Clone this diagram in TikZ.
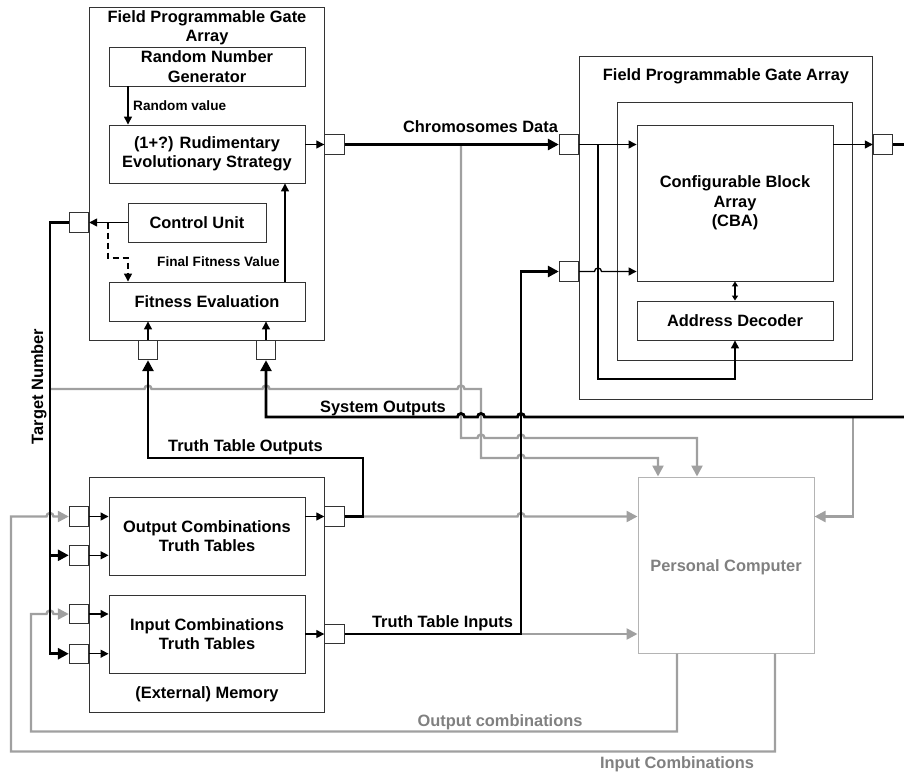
\documentclass[tikz,border=0pt]{standalone}
\usepackage{fontspec}
\setmainfont{Liberation Sans}
\usetikzlibrary{arrows.meta}
\definecolor{lgrey}{HTML}{A0A0A0}
\definecolor{tgrey}{HTML}{808080}
\definecolor{bgrey}{HTML}{333333}
\definecolor{pcgrey}{HTML}{B4B4B4}
\begin{document}
\begin{tikzpicture}[x=1pt,y=-1pt,
  every node/.style={font=\bfseries\fontsize{16.4}{19.5}\selectfont, inner sep=0pt},
  box/.style={draw=bgrey, line width=0.9pt, align=center},
  port/.style={draw=bgrey, line width=0.9pt, fill=white, minimum width=19.5pt, minimum height=19.5pt},
  small/.style={font=\bfseries\fontsize{13.6}{16}\selectfont},
  blkthin/.style={line width=1.3pt},
  tarrow/.style={blkthin, -{Triangle[length=8pt,width=8pt]}},
  blkthick/.style={line width=2.8pt},
  karrow/.style={blkthick, -{Triangle[length=11pt,width=11pt]}},
  greyline/.style={draw=lgrey, line width=2.4pt},
  garrow/.style={greyline, -{Triangle[length=11pt,width=11pt]}},
  hopr/.style args={#1/#2}{insert path={-- (#1-3.5,#2) arc[start angle=180,end angle=0,radius=3.5pt]}},
]
\useasboundingbox (0,0) rectangle (904,772);

% ---------- left FPGA ----------
\node[box, minimum width=235pt, minimum height=333pt] (lf) at (206.5,173.5) {};
\node[align=center] (lft) at (207,28) {Field Programmable Gate\\Array};
\node[box, minimum width=196pt, minimum height=39pt] (rng) at (207,66.5) {Random Number\\Generator};
\node[box, minimum width=196pt, minimum height=58pt] (es) at (207,154) {(1+?) Rudimentary\\Evolutionary Strategy};
\node[box, minimum width=138pt, minimum height=39pt] (cu) at (197,222.5) {Control Unit};
\node[box, minimum width=196pt, minimum height=39pt] (fe) at (207,301.5) {Fitness Evaluation};
\node[port] (pes) at (334.5,144.5) {};
\node[port] (ptn) at (79,222.5) {};
\node[port] (pf1) at (148,350) {};
\node[port] (pf2) at (266,350) {};
\node[small, anchor=base west] (rvl) at (133,110) {Random value};
\node[small, anchor=base west] (ffl) at (157,266) {Final Fitness Value};

% ---------- right FPGA ----------
\node[box, minimum width=293pt, minimum height=343pt] (rf) at (725.5,227.5) {};
\node[anchor=base] (rft) at (726,80) {Field Programmable Gate Array};
\node[box, minimum width=235pt, minimum height=258pt] (rm) at (734.5,231) {};
\node[box, minimum width=196pt, minimum height=156pt] (cba) at (735,203) {Configurable Block\\Array\\(CBA)};
\node[box, minimum width=196pt, minimum height=39pt] (ad) at (735,320.5) {Address Decoder};
\node[port] (pcd) at (569,144.5) {};
\node[port] (pti) at (569,271.5) {};
\node[port] (pout) at (883,144.5) {};

% ---------- memory ----------
\node[box, minimum width=235pt, minimum height=235pt] (mem) at (206.5,594.5) {};
\node[box, minimum width=196pt, minimum height=78pt] (octt) at (207,536) {Output Combinations\\Truth Tables};
\node[box, minimum width=196pt, minimum height=78pt] (ictt) at (207,634) {Input Combinations\\Truth Tables};
\node[anchor=base] (meml) at (207,698) {(External) Memory};
\node[port] (pm1) at (79,516.5) {};
\node[port] (pm2) at (79,555.3) {};
\node[port] (pm3) at (79,614) {};
\node[port] (pm4) at (79,653.7) {};
\node[port] (pmo) at (334.5,516.5) {};
\node[port] (pmi) at (334.5,634) {};

% ---------- PC ----------
\node[draw=pcgrey, line width=1pt, minimum width=176pt, minimum height=176pt] (pc) at (726,565) {};
\node[anchor=base, text=tgrey] (pcl) at (726,571) {Personal Computer};

% ---------- coordinates ----------
\coordinate (tn) at (50,222.5);
\coordinate (tgs) at (50,389);
\coordinate (cds) at (461,144.5);
\coordinate (brx) at (598,144.5);
\coordinate (tto) at (363,516.5);
\coordinate (tti) at (521,634);
\coordinate (sos) at (853,417);
\coordinate (soe) at (904,417);
\coordinate (oute) at (904,144.5);
\coordinate (dsp) at (108,222.5);

% ---------- grey connectors ----------
\draw[garrow] (tgs) [hopr={148/389}] [hopr={266/389}] [hopr={461/389}] -- (481,389) -- (481,458) [hopr={521/458}] -| ([xshift=-68pt]pc.north);
\draw[garrow] (cds) -- (461,438) [hopr={481/438}] [hopr={521/438}] -| ([xshift=-29pt]pc.north);
\draw[garrow] (tto) [hopr={521/516.5}] -- (pc.west |- pmo.east);
\draw[garrow] (tti) -- (pc.west |- pmi.east);
\draw[garrow] (sos) |- (pc.east |- pmo.east);
\draw[garrow] ([xshift=-49pt]pc.south) -- ++(0,78) -| (31,614) [hopr={50/614}] -- (pm3.west);
\draw[garrow] ([xshift=49pt]pc.south) -- ++(0,98) -| (11,516.5) [hopr={50/516.5}] -- (pm1.west);
\node[anchor=base, text=tgrey] (ocl) at (500,726) {Output combinations};
\node[anchor=base, text=tgrey] (icl) at (677,768) {Input Combinations};

% ---------- thin connectors ----------
\draw[tarrow] ([xshift=-79pt]rng.south) -- ([xshift=-79pt]es.north);
\draw[tarrow] (es.east |- pes.west) -- (pes.west);
\draw[tarrow] (cu.west) -- (ptn.east);
\draw[tarrow, dash pattern=on 6pt off 4pt] (dsp) -- ++(0,35.5) -| ([xshift=-79pt]fe.north);
\draw[tarrow] ([xshift=78pt]fe.north) -- ([xshift=78pt]es.south);
\draw[tarrow] (pf1.north) -- (pf1.north |- fe.south);
\draw[tarrow] (pf2.north) -- (pf2.north |- fe.south);
\draw[tarrow] (pm1.east) -- (pm1.east -| octt.west);
\draw[tarrow] (pm2.east) -- (pm2.east -| octt.west);
\draw[tarrow] (pm3.east) -- (pm3.east -| ictt.west);
\draw[tarrow] (pm4.east) -- (pm4.east -| ictt.west);
\draw[tarrow] (octt.east |- pmo.west) -- (pmo.west);
\draw[tarrow] (ictt.east |- pmi.west) -- (pmi.west);
\draw[tarrow] (pcd.east) -- (pcd.east -| cba.west);
\draw[tarrow] (brx) -- (598,379) -| (ad.south);
\draw[tarrow] (pti.east) [hopr={598/271.5}] -- (pti.east -| cba.west);
\draw[tarrow] (cba.east |- pout.west) -- (pout.west);
\draw[blkthin, {Triangle[length=5pt,width=6pt]}-{Triangle[length=5pt,width=6pt]}] (cba.south) -- (ad.north);

% ---------- thick connectors ----------
\draw[karrow] (pes.east) -- (pcd.west);
\node[anchor=base] (cdl) at (480.5,132) {Chromosomes Data};
\draw[karrow] (ptn.west) -- (tn) |- (pm4.west);
\draw[karrow] (tn |- pm2.west) -- (pm2.west);
\node[rotate=90, anchor=base] (tnl) at (43,386.5) {Target Number};
\draw[karrow] (pmo.east) -- (tto) -- (363,458) -| (pf1.south);
\node[anchor=base] (ttol) at (245.5,451) {Truth Table Outputs};
\draw[blkthick, {Triangle[length=11pt,width=11pt]}-] (pf2.south) -- (266,417) [hopr={461/417}] [hopr={481/417}] [hopr={521/417}] -- (soe);
\node[anchor=base] (sol) at (383,412) {System Outputs};
\draw[karrow] (pmi.east) -- (tti) -- (521,271.5) -- (pti.west);
\node[anchor=base] (ttil) at (442.5,627) {Truth Table Inputs};
\draw[blkthick] (pout.east) -- (oute);
\end{tikzpicture}
\end{document}
